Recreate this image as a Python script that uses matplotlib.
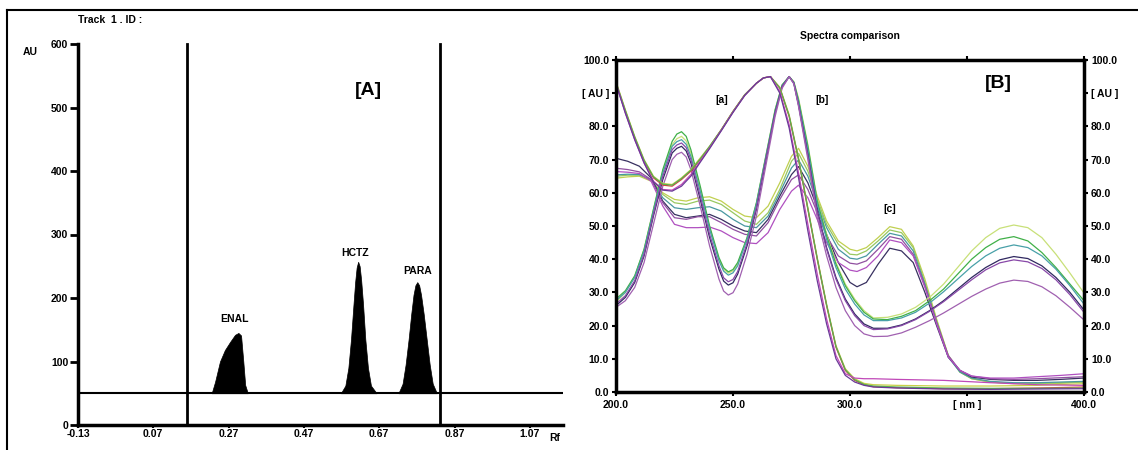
import numpy as np
import matplotlib
matplotlib.use("Agg")
import matplotlib.pyplot as plt
from matplotlib.lines import Line2D

plt.rcParams['font.family'] = ['Liberation Sans', 'DejaVu Sans']
plt.rcParams['font.weight'] = 'bold'

# ---- panel A: densitogram ----
rf_ticks = [-0.13, 0.07, 0.27, 0.47, 0.67, 0.87, 1.07]
au_ticks = [0, 100, 200, 300, 400, 500, 600]
baseline = 50
front_lines = [0.16, 0.831]

enal_rf = [0.225, 0.234, 0.247, 0.260, 0.274, 0.287, 0.296, 0.303, 0.309, 0.314, 0.321]
enal_au = [50, 68, 100, 118, 131, 142, 145, 141, 100, 63, 50]
hctz_rf = [0.568, 0.580, 0.588, 0.595, 0.601, 0.606, 0.610, 0.614, 0.618, 0.622, 0.627, 0.633,
           0.640, 0.648, 0.663]
hctz_au = [50, 62, 90, 135, 185, 225, 248, 257, 250, 228, 190, 135, 90, 62, 50]
para_rf = [0.721, 0.732, 0.740, 0.748, 0.755, 0.761, 0.766, 0.771, 0.776, 0.781, 0.788, 0.796,
           0.804, 0.812, 0.823]
para_au = [50, 65, 95, 135, 175, 205, 220, 225, 220, 205, 175, 135, 95, 65, 50]
peak_names = ['ENAL', 'HCTZ', 'PARA']
peak_label_pos = [(0.285, 167), (0.606, 271), (0.771, 242)]

# ---- panel B: spectra ----
wl_a = [200, 204, 208, 212, 216, 220, 224, 228, 232, 236, 240, 245, 250, 255, 260, 263, 266,
        270, 274, 278, 282, 286, 290, 294, 298, 302, 306, 310, 320, 340, 360, 380, 400]
a1 = [93.5, 85, 77, 70, 65, 62.8, 62.5, 64.5, 67, 70.5, 74, 79, 84.5, 89.5, 93, 94.6, 95,
      91.8, 83.5, 70.5, 55.5, 40.5, 26.5, 14, 7, 4, 2.6, 2.2, 2.0, 1.8, 1.8, 2.0, 2.5]
a2 = [93, 84.5, 76.5, 69.5, 64.5, 62.3, 62, 64, 66.5, 70, 73.8, 79, 84.5, 89.5, 93, 94.6, 95,
      91.5, 83, 70, 55, 40, 26, 13.5, 6.5, 3.5, 2.2, 1.6, 1.3, 1.0, 1.0, 1.2, 1.5]
a3 = [93.3, 84.8, 76.8, 69.8, 64.8, 62.6, 62.3, 64.3, 66.8, 70.2, 74, 79, 84.5, 89.5, 93, 94.6, 95,
      91.6, 83.2, 70.2, 55.2, 40.2, 26.2, 13.7, 6.7, 3.7, 2.3, 1.8, 1.5, 1.2, 1.1, 1.1, 1.2]
a4 = [93, 84, 76, 69, 63.5, 61, 60.8, 62.5, 65.5, 69.5, 73.5, 78.8, 84.3, 89.3, 93, 94.6, 95,
      90.5, 80.5, 66, 50.5, 35.5, 22, 11, 5.5, 4.2, 4.0, 4.0, 3.8, 3.5, 2.8, 2.2, 2.0]
a5 = [92.8, 84, 76, 69, 63.3, 60.8, 60.5, 62, 65, 69.2, 73.3, 78.7, 84.2, 89.3, 93, 94.6, 95,
      90, 79.5, 64.5, 48.5, 33.5, 20.5, 10, 5, 3, 2, 1.5, 1.2, 0.9, 0.8, 0.9, 1.0]
colors_a = ['#c8d048', '#d84040', '#58b050', '#c048b8', '#6a3a98']

wl_b = [200, 204, 208, 212, 216, 220, 224, 226, 228, 230, 232, 236, 240, 244, 246, 248, 250, 252,
        256, 260, 264, 268, 271, 274, 276, 278, 282, 286, 290, 294, 298, 302, 306, 310, 316, 322,
        328, 334, 340, 346, 352, 358, 364, 370, 376, 382, 388, 394, 400]
b1 = [27, 30, 34.8, 43, 55, 66.5, 74.5, 76.3, 77, 75.6, 72, 61, 49.5, 40, 37, 35.8, 36.5, 38.5,
      46.3, 56.8, 70.8, 85, 92.5, 95, 93.5, 88.5, 74.5, 58, 47.5, 39, 32.5, 28, 24.5, 22.3, 22.5, 23.5,
      25.5, 28.5, 32.5, 37.5, 42.5, 46.5, 49.3, 50.3, 49.5, 46.5, 41.5, 35.8, 29.8]
b2 = [28, 30.5, 35, 43, 55, 67, 75.5, 77.7, 78.4, 77, 73, 62, 50, 40.5, 37.4, 36.2, 36.9, 39,
      46.5, 57, 71, 85, 92.5, 95, 93.3, 88, 74, 57.5, 47, 38.5, 32, 27.5, 24, 22, 21.8, 22.8,
      24.5, 27.5, 31, 35.5, 40, 43.5, 46, 46.8, 45.5, 42, 37.5, 32.5, 27.5]
b3 = [27.5, 30, 34.5, 42.5, 54.5, 66, 74, 75.4, 76, 74.6, 71, 60.5, 49, 39.5, 36.4, 35.2, 35.9, 38,
      46, 56.5, 70.5, 84.5, 92.3, 95, 93.2, 87.5, 73, 56.5, 46, 37.5, 31, 26.5, 23.2, 21.5, 21.5, 22.3,
      24, 26.8, 30.2, 34, 37.8, 41, 43.3, 44.3, 43.5, 41, 37, 32, 26.5]
b4 = [26, 28.5, 33, 41, 53, 64, 72, 73.4, 74, 72.6, 69, 58, 46.5, 37, 33.4, 32.2, 32.9, 35.5,
      44, 55, 69.5, 84, 92, 95, 93, 86.5, 71.5, 54.5, 43.5, 34.5, 28, 23.5, 20.5, 19.2, 19.2, 20.2,
      22, 24.5, 27.5, 31, 34.5, 37.5, 39.8, 40.8, 40.2, 38, 34.5, 30, 24.7]
b5 = [26.5, 29, 33.5, 41.5, 53.5, 65, 73, 74.4, 75, 73.6, 70, 59, 47.5, 38, 34.4, 33.2, 33.9, 36.3,
      44.8, 55.5, 70, 84, 92, 95, 93, 86.5, 71, 54, 43, 34, 27.5, 23, 20, 18.8, 19, 20,
      21.8, 24.3, 27.2, 30.5, 33.8, 36.8, 38.9, 39.8, 39.2, 37.2, 33.8, 29.3, 24]
b6 = [25.5, 27.5, 31.5, 39, 50.5, 62, 70, 71.6, 72.2, 70.8, 67, 56, 44, 34, 30.4, 29.2, 29.9, 32.5,
      41.5, 53, 68, 83, 91.5, 95, 92.8, 86, 70, 52.5, 41, 31.5, 24.5, 20, 17.5, 16.7, 16.8, 17.8,
      19.5, 21.5, 23.8, 26.3, 28.8, 31, 32.8, 33.7, 33.3, 31.7, 29, 25.5, 21.7]
colors_b = ['#c8e078', '#40b048', '#48a0a8', '#302860', '#8848a8', '#a060b0']

wl_c = [200, 205, 210, 215, 220, 225, 230, 235, 240, 245, 250, 255, 260, 265, 270, 275, 278, 282,
        286, 290, 295, 300, 303, 307, 312, 317, 322, 327, 332, 337, 342, 347, 352, 360, 370, 380,
        390, 400]
c1 = [64.4, 64.8, 65.0, 63.5, 60.0, 58.0, 57.5, 58.5, 58.8, 57.5, 55.0, 53.0, 52.5, 56.0, 63.0,
      71.0, 73.4, 68.0, 59.0, 51.5, 45.5, 43.0, 42.5, 43.5, 46.5, 49.8, 49.0, 44.0, 34.0, 22.0,
      11.0, 6.0, 4.0, 3.0, 2.5, 2.5, 2.6, 3.0]
c2 = [65.0, 65.3, 65.3, 63.8, 59.5, 57.0, 56.5, 57.5, 57.8, 56.5, 54.0, 51.5, 50.5, 54.0, 61.0,
      69.5, 71.9, 66.5, 58.0, 50.5, 44.5, 41.5, 41.3, 42.5, 45.5, 48.8, 48.0, 43.5, 33.0, 21.5,
      11.0, 6.0, 4.0, 3.0, 2.6, 2.6, 2.8, 3.0]
c3 = [65.4, 65.6, 65.5, 64.0, 58.5, 55.5, 55.0, 55.5, 55.8, 54.5, 52.0, 50.0, 49.5, 53.0, 60.0,
      67.5, 69.9, 65.0, 57.0, 49.5, 43.0, 40.3, 40.0, 41.0, 44.5, 47.8, 47.0, 42.5, 32.5, 21.0,
      10.5, 6.0, 4.2, 3.2, 2.8, 2.8, 3.0, 3.2]
c4 = [70.4, 69.5, 68.0, 64.5, 57.5, 53.5, 52.5, 53.0, 53.5, 52.0, 50.0, 48.5, 48.0, 52.0, 59.0,
      65.5, 67.9, 63.0, 55.5, 47.5, 39.0, 33.0, 31.7, 33.0, 38.5, 43.3, 42.5, 39.0, 30.0, 20.0,
      10.5, 6.5, 4.5, 3.8, 3.5, 3.5, 3.8, 4.2]
c5 = [67.4, 67.0, 66.3, 64.0, 57.0, 52.5, 52.0, 52.8, 52.8, 51.0, 49.0, 47.5, 47.0, 51.0, 58.0,
      64.0, 65.4, 61.0, 54.0, 47.0, 41.0, 38.8, 38.5, 39.5, 43.0, 46.8, 46.0, 41.5, 32.0, 21.0,
      11.0, 6.5, 4.8, 4.0, 3.8, 4.0, 4.3, 4.6]
c6 = [66.4, 66.2, 65.8, 63.5, 56.0, 50.5, 49.5, 49.5, 49.7, 48.5, 46.5, 45.0, 44.7, 48.0, 55.0,
      60.5, 62.3, 58.5, 52.0, 45.0, 39.0, 36.7, 36.3, 37.5, 41.0, 45.8, 45.0, 41.0, 31.5, 20.5,
      10.5, 6.5, 4.8, 4.2, 4.2, 4.6, 5.0, 5.5]
colors_c = ['#c0d050', '#98c860', '#4898a0', '#383060', '#9050a0', '#b050c0']

spec_yticks = [0, 10, 20, 30, 40, 50, 60, 70, 80, 90, 100]
spec_ylabels = ['0.0', '10.0', '20.0', '30.0', '40.0', '50.0', '60.0', '70.0', '80.0', '[ AU ]', '100.0']
spec_xticks = [200, 250, 300, 350, 400]
spec_xlabels = ['200.0', '250.0', '300.0', '[ nm ]', '400.0']

fs = 7.5
fig = plt.figure(figsize=(11.38, 4.5), dpi=100)
fig.patch.set_facecolor('white')

# outer frame lines
fig.add_artist(Line2D([7 / 1138, 7 / 1138], [0, 1 - 10 / 450], color='black', lw=1.5))
fig.add_artist(Line2D([7 / 1138, 1], [1 - 10 / 450, 1 - 10 / 450], color='black', lw=1.5))

# ---------- left panel ----------
ax = fig.add_axes([78 / 1138, 1 - 425 / 450, 485 / 1138, 381 / 450])
ax.set_xlim(-0.13, 1.158)
ax.set_ylim(0, 600)
for s in ['top', 'right']:
    ax.spines[s].set_visible(False)
for s in ['left', 'bottom']:
    ax.spines[s].set_linewidth(2.5)
ax.set_xticks(rf_ticks)
ax.set_xticklabels(['%.2f' % v for v in rf_ticks])
ax.set_yticks(au_ticks)
ax.tick_params(axis='y', direction='out', length=6, width=2, pad=1, labelsize=fs)
ax.tick_params(axis='x', direction='out', length=2, width=1.5, pad=1, labelsize=fs)
for lab in ax.get_xticklabels() + ax.get_yticklabels():
    lab.set_fontweight('bold')

ax.axhline(baseline, color='black', lw=1.5)
for xv in front_lines:
    ax.plot([xv, xv], [0, 600], color='black', lw=2, clip_on=False)

for rfs, aus in [(enal_rf, enal_au), (hctz_rf, hctz_au), (para_rf, para_au)]:
    ax.fill_between(rfs, baseline, aus, color='black', lw=0.5)
for name, (px, py) in zip(peak_names, peak_label_pos):
    ax.text(px, py, name, ha='center', va='center', fontsize=fs, fontweight='bold')
ax.text(0.64, 526, '[A]', ha='center', va='center', fontsize=14, fontweight='bold')

fig.text(78 / 1138, 1 - 20 / 450, 'Track  1 . ID :', ha='left', va='center', fontsize=fs, fontweight='bold')
fig.text(30 / 1138, 1 - 52 / 450, 'AU', ha='center', va='center', fontsize=fs, fontweight='bold')
fig.text(555 / 1138, 1 - 438 / 450, 'Rf', ha='center', va='center', fontsize=fs, fontweight='bold')

# ---------- right panel ----------
bx = fig.add_axes([616 / 1138, 1 - 392 / 450, 468 / 1138, 332 / 450])
bx.set_xlim(200, 400)
bx.set_ylim(0, 100)
for s in bx.spines.values():
    s.set_linewidth(2.5)

for wl, curves, cols in [(wl_c, [c1, c2, c3, c4, c5, c6], colors_c),
                         (wl_b, [b1, b2, b3, b4, b5, b6], colors_b),
                         (wl_a, [a1, a2, a3, a4, a5], colors_a)]:
    for ys, col in zip(curves, cols):
        bx.plot(wl, ys, color=col, lw=0.9)

bx.set_xticks(spec_xticks)
bx.set_xticklabels(spec_xlabels)
bx.set_yticks(spec_yticks)
bx.set_yticklabels(spec_ylabels)
bx.tick_params(axis='x', which='both', direction='out', length=3, width=1.5, pad=3,
               top=True, labelsize=fs)
bx.tick_params(axis='y', which='both', direction='out', length=3, width=1.5, pad=2,
               right=True, labelright=True, labelsize=fs)
for lab in bx.get_xticklabels() + bx.get_yticklabels():
    lab.set_fontweight('bold')
for t in bx.yaxis.get_major_ticks():
    t.label2.set_fontweight('bold')

bx.set_title('Spectra comparison', fontsize=fs, fontweight='bold', pad=15)
bx.text(245.3, 88, '[a]', ha='center', va='center', fontsize=fs, fontweight='bold')
bx.text(288.2, 88, '[b]', ha='center', va='center', fontsize=fs, fontweight='bold')
bx.text(317, 55, '[c]', ha='center', va='center', fontsize=fs, fontweight='bold')
bx.text(363.5, 93, '[B]', ha='center', va='center', fontsize=14, fontweight='bold')

fig.savefig('out.png', dpi=100, facecolor='white')
